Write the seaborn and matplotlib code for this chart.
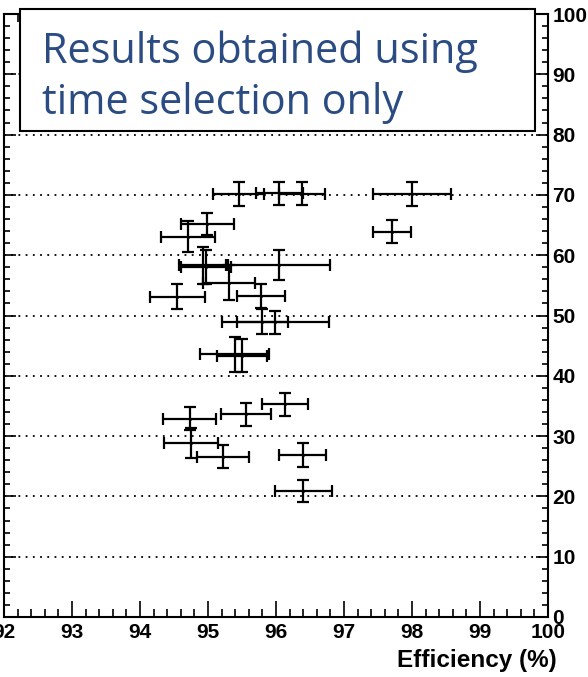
import matplotlib
matplotlib.use("Agg")
import matplotlib.pyplot as plt
import seaborn as sns
import pandas as pd
from matplotlib.patches import Rectangle
from matplotlib import font_manager

# ---------------- data ----------------
efficiency = [95.45, 96.05, 96.38, 98.00, 97.70, 94.99, 94.71, 94.92,
              94.97, 96.05, 95.31, 94.55, 95.78, 95.80, 95.99, 95.39,
              95.50, 94.73, 95.56, 96.13, 94.75, 95.22, 96.39, 96.40]
efficiency_err = [0.38, 0.35, 0.34, 0.58, 0.28, 0.39, 0.40, 0.35,
                  0.37, 0.75, 0.38, 0.41, 0.355, 0.38, 0.79, 0.51,
                  0.37, 0.39, 0.365, 0.34, 0.39, 0.385, 0.34, 0.42]
value = [70.1, 70.3, 70.2, 70.1, 63.9, 65.2, 63.1, 58.3,
         58.1, 58.4, 55.4, 53.1, 53.3, 49.0, 48.9, 43.6,
         43.3, 32.9, 33.6, 35.3, 28.9, 26.6, 26.9, 20.9]
value_err = [2.0, 1.9, 1.95, 2.0, 1.9, 1.8, 2.5, 3.0,
             2.8, 2.5, 2.9, 2.1, 2.0, 2.05, 1.9, 2.9,
             2.75, 1.9, 1.9, 1.9, 2.5, 1.9, 2.0, 1.9]

x_ticks = [92, 93, 94, 95, 96, 97, 98, 99, 100]
x_tick_labels = ["92", "93", "94", "95", "96", "97", "98", "99", "100"]
y_ticks = [0, 10, 20, 30, 40, 50, 60, 70, 80, 90, 100]
y_tick_labels = ["0", "10", "20", "30", "40", "50", "60", "70", "80", "90", "100"]
title_lines = ["Results obtained using", "time selection only"]
x_label = "Efficiency (%)"

df = pd.DataFrame({"eff": efficiency, "eff_err": efficiency_err,
                   "val": value, "val_err": value_err})

# ---------------- figure ----------------
sns.set_theme(style="ticks")
plt.rcParams['font.family'] = ['Liberation Sans', 'DejaVu Sans']

installed = {f.name for f in font_manager.fontManager.ttflist}
if "Liberation Sans Narrow" in installed:
    tick_family, tick_size = "Liberation Sans Narrow", 17
else:
    tick_family, tick_size = "Liberation Sans", 15

W, H = 588, 677
fig = plt.figure(figsize=(W / 100, H / 100), dpi=100)
fig.patch.set_facecolor("white")
ax = fig.add_axes([4 / W, 60 / H, 544 / W, 603 / H])
ax.set_facecolor("white")

ax.errorbar(df["eff"], df["val"], xerr=df["eff_err"], yerr=df["val_err"],
            fmt="none", ecolor="black", elinewidth=1.6, capsize=4.6,
            capthick=1.6, zorder=3)
sns.scatterplot(data=df, x="eff", y="val", ax=ax, s=4, color="black",
                edgecolor=None, legend=False, zorder=4)

ax.set_xlim(92, 100)
ax.set_ylim(0, 100)
ax.set_xticks(x_ticks)
ax.set_xticklabels(x_tick_labels)
ax.set_yticks(y_ticks)
ax.set_yticklabels(y_tick_labels)
ax.set_xticks([92 + 0.2 * i for i in range(41)], minor=True)
ax.set_yticks(list(range(0, 101, 2)), minor=True)
ax.set_xlabel("")
ax.set_ylabel("")

ax.grid(axis="y", which="major", color="black", linestyle=(0, (1, 3)),
        linewidth=1.3, zorder=1)
ax.set_axisbelow(True)

for sp in ax.spines.values():
    sp.set_visible(True)
    sp.set_linewidth(1.5)
    sp.set_color("black")

ax.tick_params(axis="x", which="both", direction="in", top=True, bottom=True,
               labelbottom=True, labeltop=False, color="black", width=1.2)
ax.tick_params(axis="x", which="major", length=11.5, pad=4)
ax.tick_params(axis="x", which="minor", length=6)
ax.tick_params(axis="y", which="both", direction="in", left=True, right=True,
               labelleft=False, labelright=True, color="black", width=1.2)
ax.tick_params(axis="y", which="major", length=8.6, pad=3)
ax.tick_params(axis="y", which="minor", length=4.3)
for lab in ax.get_xticklabels() + ax.get_yticklabels():
    lab.set_fontsize(tick_size)
    lab.set_fontweight("bold")
    lab.set_family(tick_family)
    lab.set_color("black")

fig.text(557 / W, 1 - 661 / H, x_label, ha="right", va="center",
         fontsize=17.5, fontweight="bold", color="black")

# ---------------- text box ----------------
rect = Rectangle((20 / W, 1 - 131 / H), (535 - 20) / W, (131 - 9) / H,
                 transform=fig.transFigure, facecolor="white",
                 edgecolor="black", linewidth=1.5, zorder=10)
fig.add_artist(rect)

txt_color = "#2b4c82"
t1 = fig.text(42 / W, 1 - 63 / H, title_lines[0], ha="left", va="baseline",
              fontsize=30, color=txt_color, family=["Open Sans", "DejaVu Sans"],
              zorder=11)
t2 = fig.text(42 / W, 1 - 114 / H, title_lines[1], ha="left", va="baseline",
              fontsize=30, color=txt_color, family=["Open Sans", "DejaVu Sans"],
              zorder=11)
fig.canvas.draw()
w1 = t1.get_window_extent().width
fs = 30 * 438 / w1
t1.set_fontsize(fs)
t2.set_fontsize(fs)

fig.savefig("out.png", dpi=100, facecolor="white")
